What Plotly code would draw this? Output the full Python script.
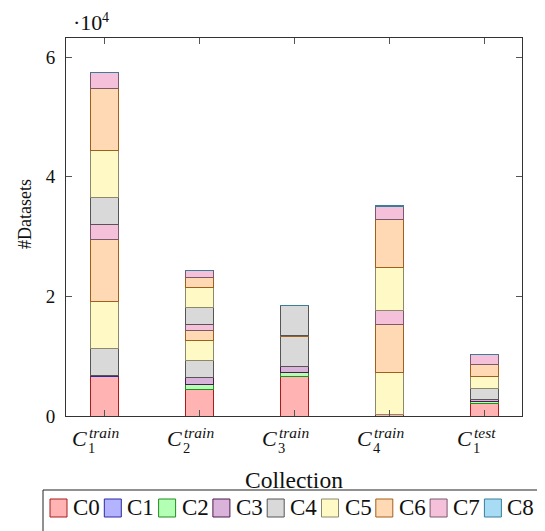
import plotly.graph_objects as go

# ---------------- data ----------------
cat_sub = ["1", "2", "3", "4", "1"]
cat_sup = ["train", "train", "train", "train", "test"]
categories = [f"C_{b}^{p}" for b, p in zip(cat_sub, cat_sup)]

series_names = ["C0", "C1", "C2", "C3", "C4", "C5", "C6", "C7", "C8"]

# first stacked block (per collection)
part_a = {
    "C0": [6600, 4500, 6600, 250, 2150],
    "C1": [150, 0, 0, 0, 0],
    "C2": [0, 850, 600, 0, 330],
    "C3": [100, 1100, 1100, 0, 340],
    "C4": [4400, 2800, 5050, 0, 1730],
    "C5": [7900, 3400, 0, 7100, 2000],
    "C6": [10400, 1600, 80, 7900, 2080],
    "C7": [2550, 1100, 0, 2350, 1600],
    "C8": [0, 0, 0, 80, 0],
}
# second stacked block on top
part_b = {
    "C0": [0, 0, 0, 0, 0],
    "C1": [0, 0, 0, 0, 0],
    "C2": [0, 0, 0, 0, 0],
    "C3": [0, 0, 0, 0, 0],
    "C4": [4400, 2800, 5000, 0, 0],
    "C5": [7900, 3400, 0, 7200, 0],
    "C6": [10400, 1600, 80, 7900, 0],
    "C7": [2600, 1100, 0, 2300, 0],
    "C8": [80, 0, 0, 80, 0],
}

y_ticks = [0, 20000, 40000, 60000]
y_tick_labels = ["0", "2", "4", "6"]

# ---------------- style ----------------
fills = ["#ffb3b3", "#b3b3ff", "#b3ffb3", "#d9b3d9", "#d9d9d9",
         "#fff9c6", "#ffd9b3", "#f5c0da", "#a8dcf5"]
edges = ["#a81c1c", "#2a2aa0", "#1f8f1f", "#4d1a4d", "#555555",
         "#8a8a6a", "#a0601a", "#7a5a6a", "#3a7f99"]
FONT = "Liberation Serif"

O = 8  # page body margin
W, H = 545 - O, 531 - O
L, R, T, B = 66 - O, 23, 38 - O, 115
PW, PH = W - L - R, H - T - B


def px(xp):  # page pixel -> paper x
    return (xp - O - L) / PW


def py(yp):  # page pixel -> paper y
    return (T + PH - (yp - O)) / PH


fig = go.Figure()
xs = list(range(len(categories)))
for block in (part_a, part_b):
    for i, name in enumerate(series_names):
        fig.add_trace(go.Bar(
            x=xs, y=block[name], name=name, width=0.295,
            marker=dict(color=fills[i], line=dict(color=edges[i], width=1)),
            showlegend=False,
        ))

annotations = []
# x tick labels: C with stacked sub/superscript
for i, (sb, sp) in enumerate(zip(cat_sub, cat_sup)):
    supw = 8.5 * len(sp)
    left = -(14 + supw) / 2 - 2
    annotations.append(dict(x=i, y=py(438), xref="x", yref="paper", text="<i>C</i>",
                            xanchor="right", yanchor="middle", xshift=left + 15,
                            showarrow=False, font=dict(family=FONT, size=22, color="#111")))
    annotations.append(dict(x=i, y=py(433), xref="x", yref="paper", text=f"<i>{sp}</i>",
                            xanchor="left", yanchor="middle", xshift=left + 13,
                            showarrow=False, font=dict(family=FONT, size=15.5, color="#111")))
    annotations.append(dict(x=i, y=py(448), xref="x", yref="paper", text=sb,
                            xanchor="left", yanchor="middle", xshift=left + 12,
                            showarrow=False, font=dict(family=FONT, size=14.5, color="#111")))

# axis titles and scale factor
annotations.append(dict(x=px(293.5), y=py(480), xref="paper", yref="paper", text="Collection",
                        showarrow=False, xanchor="center", yanchor="middle",
                        font=dict(family=FONT, size=23.5, color="#111")))
annotations.append(dict(x=px(25), y=py(214), xref="paper", yref="paper", text="#Datasets",
                        showarrow=False, xanchor="center", yanchor="middle", textangle=-90,
                        font=dict(family=FONT, size=18, color="#111")))
annotations.append(dict(x=px(104), y=py(22), xref="paper", yref="paper", text="·10",
                        showarrow=False, xanchor="right", yanchor="middle",
                        font=dict(family=FONT, size=22, color="#111")))
annotations.append(dict(x=px(100), y=py(18), xref="paper", yref="paper", text="4",
                        showarrow=False, xanchor="left", yanchor="middle",
                        font=dict(family=FONT, size=14, color="#111")))

shapes = []
# legend box
shapes.append(dict(type="rect", xref="paper", yref="paper", x0=px(43), x1=px(560),
                   y0=py(545), y1=py(490), line=dict(color="#222", width=1),
                   fillcolor="rgba(0,0,0,0)"))
for i, name in enumerate(series_names):
    x0 = 50 + 54.3 * i
    shapes.append(dict(type="rect", xref="paper", yref="paper", x0=px(x0), x1=px(x0 + 17),
                       y0=py(517), y1=py(499), fillcolor=fills[i],
                       line=dict(color=edges[i], width=1)))
    annotations.append(dict(x=px(x0 + 21), y=py(508), xref="paper", yref="paper", text=name,
                            showarrow=False, xanchor="left", yanchor="middle",
                            font=dict(family=FONT, size=23, color="#111")))

fig.update_layout(
    width=W, height=H, barmode="stack",
    margin=dict(l=L, r=R, t=T, b=B, pad=0),
    plot_bgcolor="white", paper_bgcolor="white",
    font=dict(family=FONT, size=19, color="#111"),
    showlegend=False,
    annotations=annotations, shapes=shapes,
    xaxis=dict(range=[-0.4, 4.39], tickvals=xs, showticklabels=False,
               showline=True, linecolor="#333", linewidth=1, mirror="ticks",
               ticks="inside", ticklen=6, tickcolor="#555", showgrid=False, zeroline=False),
    yaxis=dict(range=[0, 63200], tickvals=y_ticks, ticktext=y_tick_labels,
               showline=True, linecolor="#333", linewidth=1, mirror="ticks",
               ticks="inside", ticklen=6, tickcolor="#555", showgrid=False, zeroline=False,
               ticklabelstandoff=6, tickfont=dict(family=FONT, size=19)),
)

fig.write_html("out.html")
